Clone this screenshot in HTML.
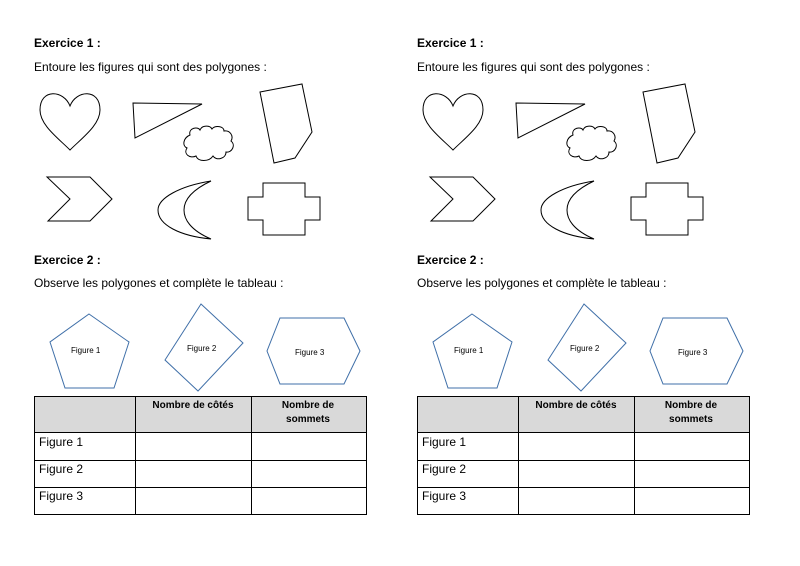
<!DOCTYPE html>
<html><head><meta charset="utf-8"><style>
html,body{margin:0;padding:0;background:#fff;}
svg{display:block;}
text{font-family:"Liberation Sans",Arial,sans-serif;fill:#000;}
</style></head><body>
<svg width="800" height="566" viewBox="0 0 800 566" xmlns="http://www.w3.org/2000/svg">
<defs>
<g id="half">
  <text x="34" y="47" font-size="12" font-weight="bold">Exercice 1 :</text>
  <text x="34" y="71" font-size="12">Entoure les figures qui sont des polygones :</text>
  <g fill="none" stroke="#000" stroke-width="1">
    <path d="M70,106 C64,90 40,88 40,110 C40,125 58,138 70,150 C82,138 100,125 100,110 C100,88 76,90 70,106 Z"/>
    <path d="M133,103 L202,104 L135,138 Z"/>
    <path d="M190,135 C188,128 198,126 200,130 C202,125 210,125 212,129 C215,125 224,126 224,131 C230,130 234,136 231,141 C236,145 232,153 226,152 C226,159 216,161 213,156 C209,162 198,162 196,156 C190,159 183,154 187,148 C182,146 183,138 190,135 Z"/>
    <path d="M260,92 L302,84 L312,132 L295,158 L274,163 Z"/>
    <path d="M47,177 L90,177 L112,199 L90,221 L48,221 L70,199 Z"/>
    <path d="M211,181 C180,186 158,198 158,210 C158,225 180,236 211,239 C190,230 184,219 184,210 C184,200 192,190 211,181 Z"/>
    <path d="M248,197 L263,197 L263,183 L305,183 L305,197 L320,197 L320,220 L305,220 L305,235 L263,235 L263,220 L248,220 Z"/>
  </g>
  <text x="34" y="264" font-size="12" font-weight="bold">Exercice 2 :</text>
  <text x="34" y="287" font-size="12">Observe les polygones et complète le tableau :</text>
  <g fill="none" stroke="#3f6fa8" stroke-width="1">
    <path d="M89,314 L129,342 L114,388 L65,388 L50,342 Z"/>
    <path d="M201,304 L243,343 L198,391 L165,360 Z"/>
    <path d="M280,318 L344,318 L360,351 L344,384 L280,384 L267,351 Z"/>
  </g>
  <text x="71" y="353" font-size="8">Figure 1</text>
  <text x="187" y="351" font-size="8">Figure 2</text>
  <text x="295" y="355" font-size="8">Figure 3</text>
  <rect x="34" y="396" width="332" height="36" fill="#d9d9d9"/>
  <g stroke="#000" stroke-width="1" fill="none">
    <rect x="34.5" y="396.5" width="332" height="118"/>
    <line x1="34" y1="432.5" x2="366" y2="432.5"/>
    <line x1="34" y1="460.5" x2="366" y2="460.5"/>
    <line x1="34" y1="487.5" x2="366" y2="487.5"/>
    <line x1="135.5" y1="396" x2="135.5" y2="514"/>
    <line x1="251.5" y1="396" x2="251.5" y2="514"/>
  </g>
  <text x="193" y="408" font-size="10" font-weight="bold" text-anchor="middle">Nombre de côtés</text>
  <text x="308" y="408" font-size="10" font-weight="bold" text-anchor="middle">Nombre de</text>
  <text x="308" y="422" font-size="10" font-weight="bold" text-anchor="middle">sommets</text>
  <text x="39" y="446" font-size="12">Figure 1</text>
  <text x="39" y="473" font-size="12">Figure 2</text>
  <text x="39" y="500" font-size="12">Figure 3</text>
</g>
</defs>
<use href="#half"/>
<use href="#half" transform="translate(383,0)"/>
</svg>
</body></html>
